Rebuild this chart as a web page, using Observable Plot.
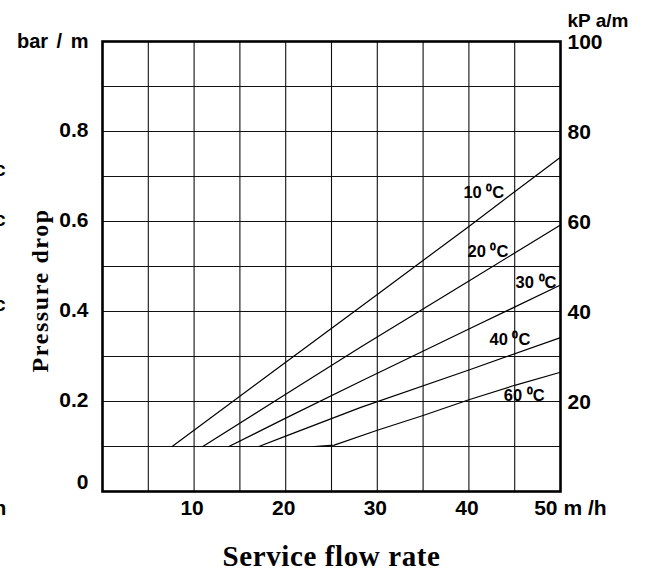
<!DOCTYPE html>
<html>
<head>
<meta charset="utf-8">
<script src="https://cdn.jsdelivr.net/npm/d3@7"></script>
<script src="https://cdn.jsdelivr.net/npm/@observablehq/plot@0.6"></script>
<style>
  html, body { margin: 0; padding: 0; background: #fff; }
  #chart svg { display: block; }
</style>
</head>
<body>
<div id="chart"></div>
<script>
// ---- data ----
const series = ["10", "20", "30", "40", "60"];
const flow10 = [7.6, 20, 30, 40, 50];
const drop10 = [0.1, 0.287, 0.438, 0.589, 0.743];
const flow20 = [10.95, 20, 28.2, 40, 50];
const drop20 = [0.1, 0.216, 0.321, 0.468, 0.592];
const flow30 = [13.8, 20, 28.2, 40, 50];
const drop30 = [0.1, 0.163, 0.245, 0.361, 0.459];
const flow40 = [17.07, 20, 28.2, 40, 50];
const drop40 = [0.1, 0.123, 0.187, 0.27, 0.342];
const flow60 = [23.1, 25.3, 30, 35, 40, 45, 50];
const drop60 = [0.1, 0.103, 0.136, 0.169, 0.204, 0.236, 0.265];

const curveLabels = ["10 \u2070C", "20 \u2070C", "30 \u2070C", "40 \u2070C", "60 \u2070C"];
const labelFlow = [39.4, 39.85, 45.1, 42.25, 43.8];
const labelDrop = [0.664, 0.533, 0.464, 0.338, 0.213];

const xGrid = [5, 10, 15, 20, 25, 30, 35, 40, 45];
const yGrid = [0.1, 0.2, 0.3, 0.4, 0.5, 0.6, 0.7, 0.8, 0.9];
const leftTicks = [0.2, 0.4, 0.6, 0.8];
const leftTickLabels = ["0.2", "0.4", "0.6", "0.8"];
const rightTicks = [0.2, 0.4, 0.6, 0.8, 1.0];
const rightTickLabels = ["20", "40", "60", "80", "100"];
const bottomTicks = [10, 20, 30, 40];
const bottomTickLabels = ["10", "20", "30", "40"];

const flows = [flow10, flow20, flow30, flow40, flow60];
const drops = [drop10, drop20, drop30, drop40, drop60];
const curves = series.flatMap((s, i) => flows[i].map((f, j) => ({series: s, flow: f, drop: drops[i][j]})));
const labels = curveLabels.map((t, i) => ({text: t, flow: labelFlow[i], drop: labelDrop[i]}));

const sans = "'Liberation Sans', Arial, sans-serif";
const serif = "'Liberation Serif', 'Times New Roman', serif";
const tickStyle = {fontSize: 21, fontWeight: "bold", fontFamily: sans, fill: "#000"};

const chart = Plot.plot({
  width: 656,
  height: 571,
  marginLeft: 102,
  marginRight: 96,
  marginTop: 41,
  marginBottom: 80,
  x: {domain: [0, 50], axis: null},
  y: {domain: [0, 1], axis: null},
  style: {background: "#fff", overflow: "visible"},
  marks: [
    Plot.ruleX(xGrid, {x: d => d, stroke: "#111", strokeWidth: 1.1}),
    Plot.ruleY(yGrid, {y: d => d, stroke: "#111", strokeWidth: 1.1}),
    Plot.frame({stroke: "#000", strokeWidth: 2.6}),
    Plot.line(curves, {x: "flow", y: "drop", z: "series", stroke: "#000", strokeWidth: 1.2}),
    Plot.text(labels, {x: "flow", y: "drop", text: "text", textAnchor: "start",
      fontSize: 16.5, fontWeight: "bold", fontFamily: sans, fill: "#000", className: "curve-label"}),
    // left tick labels
    Plot.text(leftTicks, {x: 0, y: d => d, text: (d, i) => leftTickLabels[i], textAnchor: "end", dx: -14, dy: -1, ...tickStyle}),
    Plot.text(["0"], {x: 0, y: 0, text: d => d, textAnchor: "end", dx: -14, dy: -9, ...tickStyle}),
    Plot.text(["bar / m"], {x: 0, y: 1, text: d => d, textAnchor: "end", dx: -14, dy: 0, ...tickStyle, fontSize: 20, className: "unit-left"}),
    // right tick labels
    Plot.text(rightTicks, {x: 50, y: d => d, text: (d, i) => rightTickLabels[i], textAnchor: "start", dx: 7, dy: 1, ...tickStyle}),
    Plot.text(["kP a/m"], {x: 50, y: 1, text: d => d, textAnchor: "start", dx: 7, dy: -21, ...tickStyle, fontSize: 19}),
    // bottom tick labels
    Plot.text(bottomTicks, {x: d => d, y: 0, text: (d, i) => bottomTickLabels[i], dy: 17, dx: -2, ...tickStyle}),
    Plot.text(["50"], {x: 50, y: 0, text: d => d, textAnchor: "end", dx: -3, dy: 17, ...tickStyle}),
    Plot.text(["m /h"], {x: 50, y: 0, text: d => d, textAnchor: "start", dx: 3, dy: 17, ...tickStyle}),
    // axis titles
    Plot.text(["Service flow rate"], {x: 25, y: 0, text: d => d, dy: 65, fontSize: 29,
      fontWeight: "bold", fontFamily: serif, fill: "#000", className: "x-title"}),
    Plot.text(["Pressure drop"], {x: 0, y: 0.447, text: d => d, dx: -62, rotate: -90, fontSize: 24,
      fontWeight: "bold", fontFamily: serif, fill: "#000", className: "y-title"}),
    // clipped fragments at the left edge of the picture
    Plot.text(["c", "c", "c"], {x: 0, y: [0.715, 0.604, 0.415], text: d => d, textAnchor: "start", dx: -108,
      fontSize: 20, fontWeight: "bold", fontFamily: sans, fill: "#000"}),
    Plot.text(["h"], {x: 0, y: 0, text: d => d, textAnchor: "start", dx: -109, dy: 17,
      fontSize: 21, fontWeight: "bold", fontFamily: sans, fill: "#000"})
  ]
});
chart.querySelectorAll("g.y-title text").forEach(t => t.style.letterSpacing = "1.6px");
chart.querySelectorAll("g.x-title text").forEach(t => t.style.letterSpacing = "0.6px");
chart.querySelectorAll("g.unit-left text").forEach(t => t.style.wordSpacing = "3px");
document.getElementById("chart").appendChild(chart);
</script>
</body>
</html>
